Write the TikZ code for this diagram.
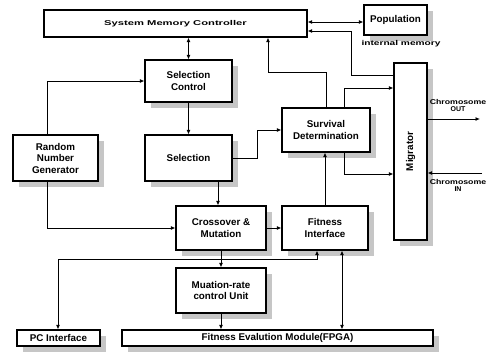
\documentclass[tikz,border=0pt]{standalone}
\usepackage{fontspec}
\setmainfont{Liberation Sans}
\usetikzlibrary{shadows,arrows.meta}
\begin{document}
\begin{tikzpicture}[x=1pt,y=-1pt,
  box/.style={draw,line width=1.1pt,fill=white,align=center,inner sep=1pt,
    font=\fontsize{9.8}{11.5}\selectfont\bfseries,
    drop shadow={shadow xshift=6pt,shadow yshift=-6pt,fill=gray!45,opacity=1}},
  plainbox/.style={draw,line width=1.1pt,fill=white,inner sep=1pt},
  conn/.style={line width=0.9pt},
  arr/.style={conn,-{Latex[length=4.5pt,width=4pt]}},
  dbl/.style={conn,{Latex[length=4.5pt,width=4pt]}-{Latex[length=4.5pt,width=4pt]}},
  lbl/.style={font=\fontsize{7}{7}\selectfont\bfseries,inner sep=0pt,align=center}]
\useasboundingbox (0,0) rectangle (489,360);
% boxes
\node[plainbox,minimum width=263pt,minimum height=27pt] (smc) at (175.5,23.5)
  {\scalebox{1.6}[1]{\fontsize{7}{8}\selectfont\bfseries System Memory Controller}};
\node[box,minimum width=63pt,minimum height=30pt] (pop) at (395.5,20) {Population};
\node[box,minimum width=87pt,minimum height=42pt] (selc) at (188.5,81) {Selection\\Control};
\node[box,minimum width=85pt,minimum height=46pt] (rng) at (55.5,158) {Random\\Number\\Generator};
\node[box,minimum width=87pt,minimum height=46pt] (sel) at (188.5,158) {Selection};
\node[box,minimum width=90pt,minimum height=44pt] (cross) at (221,228) {Crossover \&\\Mutation};
\node[box,minimum width=86pt,minimum height=44pt] (fit) at (325,228) {Fitness\\Interface};
\node[box,minimum width=90pt,minimum height=45pt] (mut) at (221,290.5) {Muation-rate\\control Unit};
\node[box,minimum width=88pt,minimum height=44pt] (surv) at (326,130) {Survival\\Determination};
\node[box,minimum width=33pt,minimum height=177pt] (mig) at (410.5,151.5) {\rotatebox{90}{Migrator}};
\node[box,minimum width=83pt,minimum height=16pt] (pc) at (58.5,338) {PC Interface};
\node[box,minimum width=311pt,minimum height=16pt] (fem) at (277.5,338) {Fitness Evalution Module(FPGA)};
% labels
\node[lbl] (imem) at (401,44) {\scalebox{1.45}[1]{internal memory}};
\node[lbl] (cout) at (458,105) {\scalebox{1.25}[1]{Chromosome}\\OUT};
\node[lbl] (cin) at (458,185) {\scalebox{1.25}[1]{Chromosome}\\IN};
% coordinates
\coordinate (r) at (47,0);
\coordinate (c218) at (218,0);
\coordinate (c268) at (268,72);
\coordinate (u) at (344,88);
\coordinate (l) at (344,174);
\coordinate (m1) at (351,75);
\coordinate (m2) at (351,31);
\coordinate (p) at (0,22);
\coordinate (q1) at (317,259);
\coordinate (q2) at (58,259);
\coordinate (f) at (342,0);
\coordinate (o) at (480,119);
\coordinate (i) at (482,173);
\coordinate (sx) at (257,0);
% connectors
\draw[dbl] (selc.north |- smc.south) -- (selc.north);
\draw[dbl] (p -| smc.east) -- (p -| pop.west);
\draw[arr] (m1 -| mig.west) -- (m1) -- (m2) -- (m2 -| smc.east);
\draw[arr] (surv.north) |- (c268) -- (c268 |- smc.south);
\draw[arr] (u |- surv.north) -- (u) -- (u -| mig.west);
\draw[arr] (l |- surv.south) -- (l) -- (l -| mig.west);
\draw[arr] (sel.east) -- (sx |- sel.east) |- (surv.west);
\draw[arr] (fit.north) -- (fit.north |- surv.south);
\draw[arr] (selc.south) -- (sel.north);
\draw[arr] (r |- rng.north) |- (selc.west);
\draw[arr] (r |- rng.south) |- (cross.west);
\draw[arr] (c218 |- sel.south) -- (c218 |- cross.north);
\draw[arr] (cross.east) -- (fit.west);
\draw[arr] (cross.south) -- (mut.north);
\draw[dbl] (q1 |- fit.south) -- (q1) -- (q2) -- (q2 |- pc.north);
\draw[arr] (mut.south) -- (mut.south |- fem.north);
\draw[dbl] (f |- fit.south) -- (f |- fem.north);
\draw[arr] (o -| mig.east) -- (o);
\draw[arr] (i) -- (i -| mig.east);
\end{tikzpicture}
\end{document}
